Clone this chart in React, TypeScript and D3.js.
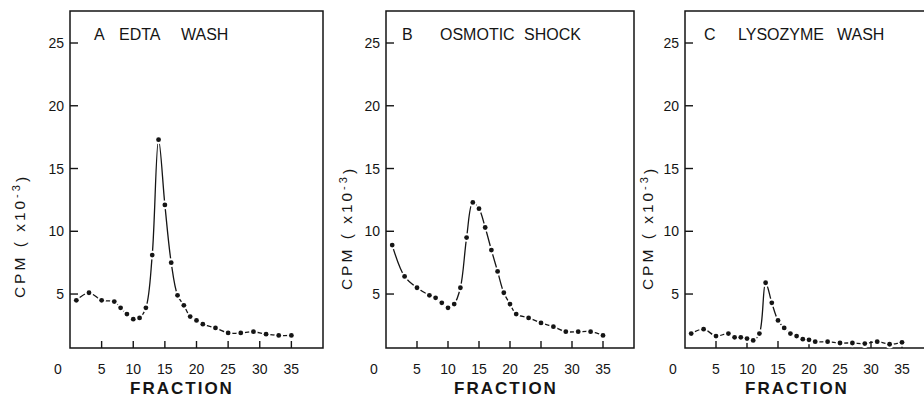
import React from "react";
import * as d3 from "d3";

const fractions = [1, 3, 5, 7, 8, 9, 10, 11, 12, 13, 14, 15, 16, 17, 18, 19, 20, 21, 23, 25, 27, 29, 31, 33, 35];
const edtaWash = [4.5, 5.1, 4.5, 4.4, 3.9, 3.4, 3.0, 3.1, 3.9, 8.1, 17.3, 12.1, 7.5, 4.9, 4.1, 3.2, 2.9, 2.6, 2.3, 1.9, 1.9, 2.0, 1.8, 1.7, 1.7];
const osmoticShock = [8.9, 6.4, 5.5, 4.9, 4.7, 4.3, 3.9, 4.2, 5.5, 9.5, 12.3, 11.8, 10.3, 8.5, 6.8, 5.1, 4.2, 3.4, 3.1, 2.7, 2.4, 2.0, 2.0, 2.0, 1.7];
const lysozymeWash = [1.85, 2.2, 1.65, 1.85, 1.55, 1.55, 1.45, 1.3, 1.85, 5.9, 4.3, 2.9, 2.3, 1.85, 1.65, 1.4, 1.35, 1.2, 1.2, 1.1, 1.1, 1.05, 1.2, 1.0, 1.15];

const panelLetters = ["A", "B", "C"];
const panelTitles = [["EDTA", "WASH"], ["OSMOTIC", "SHOCK"], ["LYSOZYME", "WASH"]];
const xTicks = [5, 10, 15, 20, 25, 30, 35];
const yTicks = [5, 10, 15, 20, 25];
const xLabel = "FRACTION";

const INK = "#151515";
const FONT = "'Liberation Sans', Arial, sans-serif";

type PanelProps = {
  values: number[];
  letter: string;
  words: string[];
  left: number;
  right: number;
  letterX: number;
  wordXs: number[];
  labelX: number;
  labelY: number;
  xLabelX: number;
};

const TOP = 11;
const BOTTOM = 348;
const Y_MIN = 0.7;
const Y_MAX = 27.55;

function Panel({ values, letter, words, left, right, letterX, wordXs, labelX, labelY, xLabelX }: PanelProps) {
  const x = d3.scaleLinear().domain([0, 40]).range([left, right]);
  const y = d3.scaleLinear().domain([Y_MIN, Y_MAX]).range([BOTTOM, TOP]);
  const pts = fractions.map((f, i) => [f, values[i]] as [number, number]);
  const line = d3
    .line<[number, number]>()
    .x((d) => x(d[0]))
    .y((d) => y(d[1]))
    .curve(d3.curveCatmullRom.alpha(0.5));
  const x0 = x(0);
  const x1 = x(40);
  return (
    <g>
      <path
        d={`M${x0},${y(Y_MAX)} L${x0},${y(Y_MIN)} L${x1},${y(Y_MIN)} L${x1},${y(Y_MAX)} Z`}
        fill="none"
        stroke={INK}
        strokeWidth={1.5}
      />
      {yTicks.map((t) => (
        <g key={"y" + t}>
          <line x1={x0} x2={x0 + 8} y1={y(t)} y2={y(t)} stroke={INK} strokeWidth={1.4} />
          <text x={x0 - 6} y={y(t)} dy="0.36em" textAnchor="end" fontSize={14} fontFamily={FONT} fill={INK}>
            {t}
          </text>
        </g>
      ))}
      {xTicks.map((t) => (
        <g key={"x" + t}>
          <line x1={x(t)} x2={x(t)} y1={y(Y_MIN)} y2={y(Y_MIN) - 7} stroke={INK} strokeWidth={1.4} />
          <text x={x(t)} y={374} textAnchor="middle" fontSize={14} fontFamily={FONT} fill={INK}>
            {t}
          </text>
        </g>
      ))}
      <text x={x0 - 12} y={374} textAnchor="middle" fontSize={14} fontFamily={FONT} fill={INK}>
        0
      </text>
      <text
        x={xLabelX}
        y={394}
        textAnchor="middle"
        fontSize={17}
        fontWeight="bold"
        letterSpacing={2}
        fontFamily={FONT}
        fill={INK}
      >
        {xLabel}
      </text>
      <text
        transform={`translate(${labelX},${labelY}) rotate(-90)`}
        textAnchor="middle"
        dy="0.35em"
        fontSize={15.5}
        letterSpacing={3}
        fontFamily={FONT}
        fill={INK}
      >
        CPM ( x10
        <tspan dy="-0.45em" fontSize={11}>
          -3
        </tspan>
        <tspan dy="0.45em">)</tspan>
      </text>
      <text x={letterX} y={40} fontSize={16} fontFamily={FONT} fill={INK}>
        {letter}
      </text>
      {words.map((w, i) => (
        <text key={w + i} x={wordXs[i]} y={40} fontSize={16} fontFamily={FONT} fill={INK}>
          {w}
        </text>
      ))}
      <path d={line(pts) || ""} fill="none" stroke={INK} strokeWidth={1.3} />
      {pts.map((d, i) => (
        <circle key={"h" + i} cx={x(d[0])} cy={y(d[1])} r={4.3} fill="#fff" />
      ))}
      {pts.map((d, i) => (
        <circle key={"p" + i} cx={x(d[0])} cy={y(d[1])} r={2.4} fill={INK} />
      ))}
    </g>
  );
}

export default function App() {
  const series = [edtaWash, osmoticShock, lysozymeWash];
  const lefts = [70, 386, 685];
  const rights = [323, 634, 933];
  const letterXs = [94, 402, 704];
  const wordXs = [[119, 181], [440, 524], [738, 837]];
  const labelXs = [20, 347, 648];
  const labelYs = [236, 228, 228];
  const xLabelXs = [182, 506, 797];
  return (
    <svg width={924} height={400} style={{ position: "absolute", left: 0, top: 0, background: "#fff" }}>
      <rect width={924} height={400} fill="#fff" />
      {series.map((s, i) => (
        <Panel
          key={i}
          values={s}
          letter={panelLetters[i]}
          words={panelTitles[i]}
          left={lefts[i]}
          right={rights[i]}
          letterX={letterXs[i]}
          wordXs={wordXs[i]}
          labelX={labelXs[i]}
          labelY={labelYs[i]}
          xLabelX={xLabelXs[i]}
        />
      ))}
    </svg>
  );
}
